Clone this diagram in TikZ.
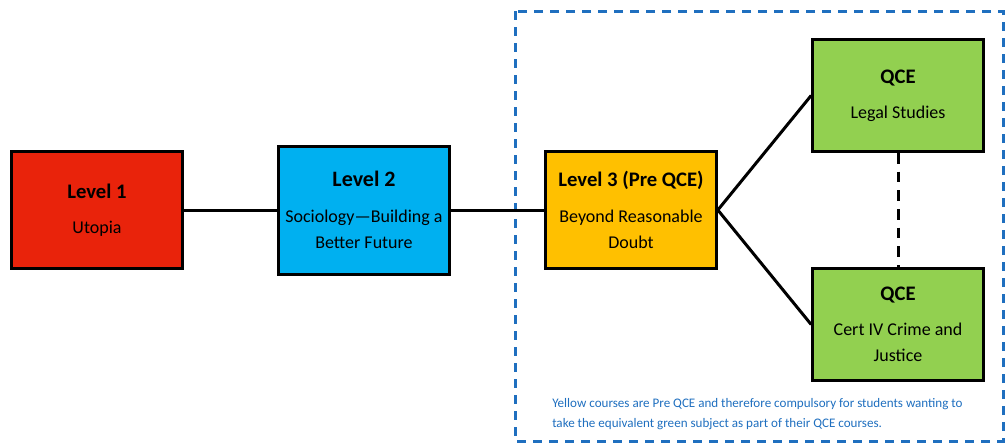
\documentclass[tikz,border=0pt]{standalone}
\usepackage{fontspec}
\setmainfont{Carlito}

\definecolor{lvlred}{HTML}{E9230B}
\definecolor{lvlblue}{HTML}{00B0F0}
\definecolor{lvlyellow}{HTML}{FFC000}
\definecolor{qcegreen}{HTML}{92D050}
\definecolor{noteblue}{HTML}{1F6FBF}

\newcommand{\lvlhead}[2][15.5]{{\fontsize{#1}{19.5}\selectfont\bfseries #2}}

\tikzset{
    box/.style={draw, line width=2.25pt, minimum width=128pt, inner sep=0pt,
        align=center, font=\fontsize{13.5}{19.5}\selectfont},
    qcebox/.style={box, fill=qcegreen, minimum height=84pt},
    pathway/.style={draw, line width=2.25pt},
    preqce/.style={draw=noteblue, line width=2.25pt, dash pattern=on 7pt off 5pt},
}

\begin{document}
\begin{tikzpicture}[x=0.75pt, y=-0.75pt, grow=right,
        level distance=200.25pt, sibling distance=171.75pt,
        parent anchor=east, child anchor=west,
        edge from parent/.style={pathway}]
    \useasboundingbox (0,0) rectangle (1005,443);
    \draw[preqce] (515,11) rectangle (1003,441);
    \node[box, fill=lvlred, minimum height=88pt] (lvl1) at (97,210)
        {\lvlhead{Level 1}\\[7pt] Utopia}
    child {
        node[box, fill=lvlblue, minimum height=96pt] (lvl2)
            {\lvlhead[16.5]{Level 2}\\[8pt] Sociology—Building a\\ Better Future}
        child {
            node[box, fill=lvlyellow, minimum height=88pt] (lvl3)
                {\lvlhead{Level 3 (Pre QCE)}\\[7pt] Beyond Reasonable\\ Doubt}
            child {
                node[qcebox] (crime)
                    {\lvlhead{QCE}\\[7pt] Cert IV Crime and\\ Justice}
            }
            child {
                node[qcebox] (legal)
                    {\lvlhead{QCE}\\[7pt] Legal Studies}
            }
        }
    };
    \draw[line width=2.25pt, dash pattern=on 8pt off 6pt] (legal) -- (crime);
    \node[anchor=north west, align=left, text=noteblue, inner sep=0pt,
        font=\fontsize{9.8}{15}\selectfont] (note) at (552,398)
        {Yellow courses are Pre QCE and therefore compulsory for students wanting to\\
         take the equivalent green subject as part of their QCE courses.};
\end{tikzpicture}
\end{document}
